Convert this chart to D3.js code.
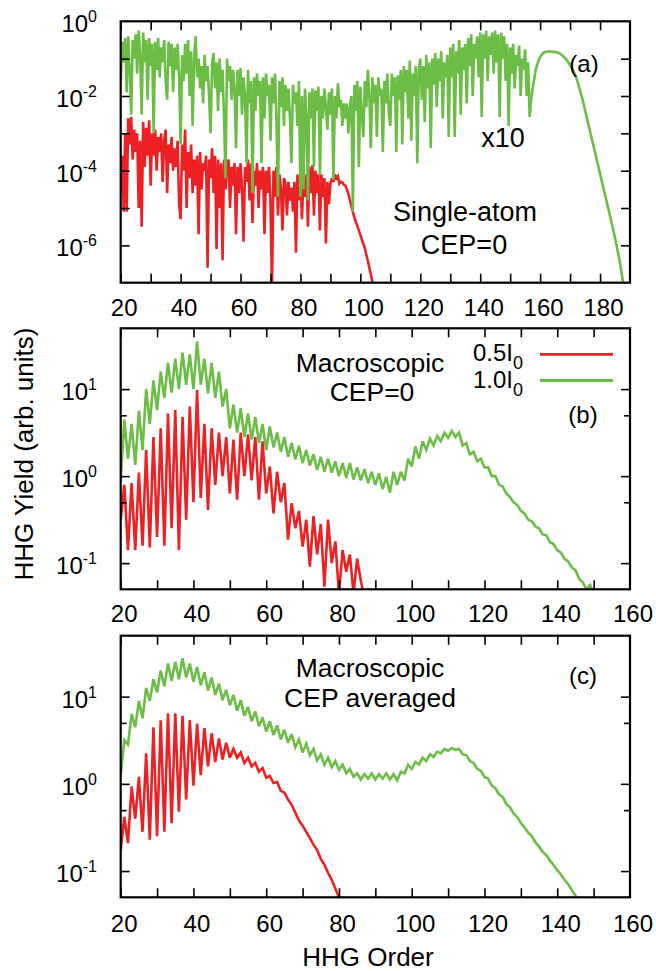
<!DOCTYPE html>
<html><head><meta charset="utf-8">
<script src="https://cdn.jsdelivr.net/npm/d3@7"></script>
<style>
body{margin:0;background:#fff}
text{font-family:"Liberation Sans",Arial,Helvetica,sans-serif;fill:#000}
</style>
</head><body>
<svg id="chart" width="656" height="971"></svg>
<script>
// ---------------- DATA (log10 of HHG yield) ----------------
// Panel (a): single-atom, CEP=0, sampled every 0.5 harmonic order from order 20
const aStart = 20, aStep = 0.5;
const a_I05_log10 = [
 -4.6,-3.6,-5.1,-3.0,-5.1,-2.6,-3.3,-2.56,-3.7,-2.9,
 -3.5,-3.0,-5.0,-3.2,-5.5,-2.7,-3.9,-2.85,-3.6,-2.65,
 -4.4,-3.0,-3.6,-2.9,-4.0,-3.1,-3.5,-3.0,-4.3,-3.2,
 -2.9,-4.6,-3.3,-3.8,-3.1,-4.0,-3.4,-3.9,-3.2,-4.9,
 -5.3,-3.3,-4.0,-2.9,-5.0,-3.5,-4.2,-3.3,-4.6,-3.7,
 -4.4,-3.6,-5.7,-3.5,-4.5,-3.8,-4.0,-3.6,-6.6,-3.7,
 -4.2,-3.4,-4.6,-3.6,-6.1,-3.7,-5.0,-3.8,-6.4,-3.7,
 -4.5,-3.9,-3.7,-5.0,-3.9,-4.4,-3.8,-5.7,-3.9,-4.6,
 -3.8,-4.5,-5.9,-3.9,-4.3,-3.7,-4.8,-3.8,-5.4,-4.0,
 -4.4,-3.8,-5.0,-4.0,-4.5,-3.9,-5.7,-4.0,-4.6,-3.9,
 -4.8,-7.2,-4.0,-4.7,-3.9,-5.2,-4.1,-4.5,-5.6,-4.2,
 -4.35,-5.2,-4.3,-4.8,-4.45,-5.1,-4.3,-6.2,-4.1,-4.8,
 -4.1,-5.3,-4.2,-4.7,-4.1,-5.5,-3.9,-4.6,-3.85,-5.2,
 -4.0,-4.6,-4.1,-5.6,-4.1,-4.7,-4.2,-5.95,-4.3,-4.9,
 -4.35,-4.2,-4.3,-4.1,-4.2,-4.15,-4.35,-4.3,-4.32,-4.38,
 -4.4,-4.5,-4.62,-4.78,-4.95,-5.1,-5.25,-5.38,-5.48,-5.6,
 -5.72,-5.84,-5.96,-6.08,-6.25,-6.42,-6.6,-6.78,-6.96,-7.15
];
const a_I10_log10 = [
 -1.6,-0.55,-1.1,-0.45,-1.9,-0.4,-1.3,-2.5,-0.5,-1.0,
 -0.35,-1.4,-0.25,-0.9,-2.5,-0.3,-1.1,-0.5,-2.1,-0.45,
 -1.2,-0.6,-3.0,-0.55,-1.3,-0.45,-1.5,-0.7,-1.1,-0.5,
 -1.6,-2.1,-0.55,-1.2,-0.6,-1.9,-0.7,-1.3,-0.6,-1.5,
 -3.3,-0.9,-1.6,-0.6,-1.4,-0.5,-2.0,-0.8,-2.8,-1.0,
 -0.4,-1.5,-1.0,-1.8,-1.2,-2.2,-0.9,-1.6,-1.2,-2.0,
 -3.0,-1.1,-0.85,-1.8,-1.1,-2.4,-1.0,-1.9,-1.3,-2.6,
 -4.2,-1.0,-1.6,-1.2,-2.1,-1.3,-1.8,-3.4,-1.3,-2.0,
 -1.25,-2.5,-1.5,-2.0,-3.8,-1.3,-2.2,-1.6,-4.6,-1.5,
 -2.4,-1.4,-2.0,-1.6,-3.8,-1.5,-2.6,-1.4,-2.0,-1.7,
 -3.2,-1.5,-2.2,-1.4,-2.7,-4.7,-1.6,-2.3,-1.5,-2.8,
 -1.7,-2.4,-1.8,-2.6,-3.8,-1.7,-2.2,-1.9,-2.8,-1.6,
 -4.7,-2.0,-4.5,-1.8,-2.5,-4.8,-1.9,-2.6,-1.8,-3.9,
 -1.85,-2.4,-1.75,-4.1,-2.0,-2.6,-1.8,-2.3,-2.9,-1.9,
 -2.5,-1.8,-4.25,-2.0,-2.6,-1.66,-2.3,-2.1,-2.8,-2.2,
 -2.6,-2.2,-3.0,-2.3,-2.0,-5.1,-1.7,-2.4,-1.6,-3.9,
 -1.75,-2.5,-3.1,-1.6,-2.3,-1.3,-2.0,-3.4,-1.5,-2.2,
 -1.7,-3.1,-1.5,-2.0,-1.8,-3.5,-1.6,-2.2,-1.4,-2.5,
 -2.8,-1.4,-2.0,-1.5,-3.5,-1.45,-2.1,-1.3,-3.3,-1.2,
 -1.9,-1.3,-2.6,-1.05,-3.2,-1.4,-2.0,-1.2,-3.8,-1.3,
 -1.0,-2.1,-1.2,-2.7,-0.9,-1.8,-1.1,-3.4,-1.0,-1.7,
 -0.85,-2.3,-1.0,-1.6,-0.8,-2.6,-1.1,-1.5,-0.9,-3.1,
 -0.7,-1.5,-0.6,-3.1,-0.8,-1.4,-0.5,-2.5,-0.7,-1.3,
 -0.6,-2.2,-0.45,-1.2,-0.35,-2.0,-0.6,-1.0,-0.4,-1.5,
 -0.3,-2.56,-0.35,-1.0,-0.25,-1.6,-0.4,-0.9,-0.3,-1.4,
 -0.25,-1.1,-0.35,-2.56,-0.3,-1.0,-0.4,-1.6,-0.6,-2.8,
 -0.7,-1.4,-0.6,-1.8,-0.9,-1.2,-0.65,-2.0,-1.0,-1.3,
 -0.75,-2.0,-1.1,-2.56,-2.1,-1.8,-1.57,-1.3,-1.17,-1.05,
 -0.96,-0.9,-0.85,-0.83,-0.82,-0.81,-0.81,-0.81,-0.82,-0.82,
 -0.82,-0.83,-0.84,-0.86,-0.89,-0.92,-0.96,-1.0,-1.05,-1.11,
 -1.17,-1.24,-1.31,-1.4,-1.5,-1.62,-1.76,-1.9,-2.05,-2.2,
 -2.38,-2.55,-2.72,-2.89,-3.06,-3.23,-3.4,-3.57,-3.74,-3.91,
 -4.08,-4.25,-4.42,-4.59,-4.76,-4.93,-5.1,-5.27,-5.44,-5.62,
 -5.8,-6.0,-6.2,-6.4,-6.65,-6.9,-7.15
];

// Panels (b) and (c): macroscopic, sampled every harmonic order from order 20
const bcStart = 20, bcStep = 1;
const b_I05_log10 = [
 -0.5,-0.1,-0.85,-0.08,-0.85,0.04,-0.8,0.3,-0.82,0.45,
 -0.7,0.55,-0.8,0.72,-0.6,0.76,-0.85,0.68,-0.5,0.8,
 -0.3,0.99,-0.25,0.6,-0.39,0.55,-0.1,0.5,0.0,0.45,
 -0.2,0.42,-0.27,0.5,0.0,0.48,-0.05,0.45,-0.27,0.4,
 -0.2,0.11,-0.43,0.05,-0.3,-0.08,-0.73,-0.31,-0.6,-0.4,
 -0.81,-0.5,-1.04,-0.46,-0.9,-0.55,-1.27,-0.5,-1.0,-0.75,
 -1.35,-0.85,-1.1,-0.9,-1.35,-0.95,-1.2,-1.4
];
const b_I10_log10 = [
 -0.05,0.65,0.2,0.6,0.13,0.75,0.3,1.0,0.6,1.1,
 0.76,1.2,0.9,1.3,0.96,1.35,1.0,1.42,1.05,1.4,
 1.0,1.55,1.05,1.35,0.95,1.3,0.9,1.2,0.8,1.0,
 0.55,0.82,0.5,0.78,0.45,0.72,0.42,0.68,0.38,0.6,
 0.3,0.57,0.33,0.5,0.28,0.45,0.22,0.38,0.19,0.35,
 0.15,0.3,0.12,0.25,0.07,0.22,0.05,0.2,0.04,0.17,
 0.0,0.15,-0.02,0.15,-0.04,0.1,-0.05,0.08,-0.08,0.05,
 -0.1,0.03,-0.15,-0.01,-0.19,0.05,-0.1,0.05,-0.05,0.2,
 0.11,0.34,0.2,0.4,0.3,0.43,0.35,0.46,0.4,0.5,
 0.44,0.52,0.45,0.5,0.35,0.38,0.25,0.28,0.17,0.2,
 0.1,0.1,0.0,0.0,-0.1,-0.12,-0.2,-0.24,-0.3,-0.33,
 -0.4,-0.43,-0.5,-0.52,-0.58,-0.6,-0.67,-0.68,-0.76,-0.78,
 -0.85,-0.88,-0.95,-0.98,-1.05,-1.08,-1.18,-1.22,-1.3,-1.25,
 -1.35
];
const c_I05_log10 = [
 -0.76,-0.38,-0.68,-0.03,-0.4,0.08,-0.55,0.35,-0.64,0.65,
 -0.6,0.73,-0.55,0.81,-0.45,0.81,-0.32,0.78,-0.18,0.73,
 -0.02,0.69,0.1,0.64,0.2,0.58,0.25,0.52,0.28,0.47,
 0.3,0.4,0.3,0.36,0.24,0.3,0.2,0.24,0.14,0.18,
 0.07,0.09,0.01,0.02,-0.08,-0.1,-0.18,-0.24,-0.33,-0.42,
 -0.48,-0.55,-0.62,-0.7,-0.76,-0.86,-0.93,-1.02,-1.1,-1.2,
 -1.3,-1.4
];
const c_I10_log10 = [
 0.1,0.5,0.45,0.8,0.65,0.95,0.75,1.1,0.95,1.2,
 1.05,1.3,1.12,1.38,1.18,1.4,1.2,1.44,1.22,1.38,
 1.17,1.34,1.13,1.28,1.07,1.22,1.02,1.15,0.96,1.08,
 0.9,1.02,0.84,0.96,0.78,0.88,0.72,0.83,0.66,0.76,
 0.6,0.72,0.56,0.67,0.51,0.62,0.47,0.57,0.42,0.51,
 0.36,0.46,0.33,0.4,0.27,0.34,0.22,0.3,0.19,0.26,
 0.16,0.22,0.12,0.17,0.08,0.12,0.05,0.11,0.06,0.12,
 0.05,0.11,0.06,0.12,0.05,0.11,0.04,0.14,0.12,0.22,
 0.17,0.25,0.22,0.3,0.26,0.34,0.31,0.37,0.35,0.4,
 0.38,0.41,0.39,0.4,0.34,0.33,0.26,0.24,0.17,0.15,
 0.08,0.06,-0.02,-0.05,-0.12,-0.15,-0.23,-0.27,-0.34,-0.38,
 -0.45,-0.5,-0.56,-0.6,-0.67,-0.72,-0.78,-0.82,-0.88,-0.93,
 -0.99,-1.04,-1.1,-1.15,-1.22,-1.28,-1.35
];

// Tick values / labels
const xTicksA = [20,30,40,50,60,70,80,90,100,110,120,130,140,150,160,170,180];
const xLabelsA = [20,40,60,80,100,120,140,160,180];
const xTicksBC = [20,30,40,50,60,70,80,90,100,110,120,130,140,150];
const xLabelsBC = [20,40,60,80,100,120,140,160];
const yMajorA = [1e-6,1e-5,1e-4,1e-3,1e-2,1e-1];
const yLabelExpA = [0,-2,-4,-6];
const yMajorBC = [10,1,0.1];
const yMinorBC = [5,0.5];
const yLabelExpBC = [1,0,-1];
const legendNames = ["0.5I", "1.0I"];
const colors = {I05:"#ed2024", I10:"#6bbd45"};

// ---------------- DRAWING ----------------
const svg = d3.select("#chart");
const L = 120.7, R = 630;

function series(vals, start, step){ return vals.map((v,i)=>[start+i*step, Math.pow(10,v)]); }

function panel(cfg){
  const x = d3.scaleLinear().domain(cfg.xd).range([L,R]);
  const y = d3.scaleLog().domain(cfg.yd).range([cfg.bot,cfg.top]);
  const g = svg.append("g");
  const cid = "clip-"+cfg.id;
  svg.append("clipPath").attr("id",cid).append("rect")
    .attr("x",L).attr("y",cfg.top).attr("width",R-L).attr("height",cfg.bot-cfg.top);
  const line = d3.line().x(d=>x(d[0])).y(d=>y(d[1]));
  const lg = g.append("g").attr("clip-path","url(#"+cid+")");
  cfg.series.forEach(s=>{
    lg.append("path").datum(s.data).attr("d",line)
      .attr("fill","none").attr("stroke",s.color).attr("stroke-width",2.6)
      .attr("stroke-linejoin","miter").attr("stroke-miterlimit",3);
  });
  const tickStyle = sel=>{ sel.select(".domain").remove(); sel.selectAll(".tick line").attr("stroke","#000").attr("stroke-width",1.6); };
  const bx = g.append("g").attr("transform",`translate(0,${cfg.bot})`)
    .call(d3.axisBottom(x).tickValues(cfg.xt).tickSizeInner(-9).tickSizeOuter(0).tickPadding(cfg.xpad)
      .tickFormat(d=>cfg.xl.includes(d)?String(d):""));
  tickStyle(bx);
  bx.selectAll(".tick text").attr("font-size",24).attr("dx",3).attr("font-family",null);
  cfg.xl.filter(v=>!cfg.xt.includes(v)).forEach(v=>{
    g.append("text").attr("x",x(v)+3).attr("y",cfg.bot+cfg.xpad+17).attr("text-anchor","middle")
      .attr("font-size",24).text(v);
  });
  const tx = g.append("g").attr("transform",`translate(0,${cfg.top})`)
    .call(d3.axisTop(x).tickValues(cfg.xt).tickSizeInner(-9).tickSizeOuter(0).tickFormat(""));
  tickStyle(tx);
  [[d3.axisLeft,L],[d3.axisRight,R]].forEach(([ax,pos])=>{
    const s = g.append("g").attr("transform",`translate(${pos},0)`)
      .call(ax(y).tickValues(cfg.ymaj).tickSizeInner(-9).tickSizeOuter(0).tickFormat(""));
    tickStyle(s);
    if(cfg.ymin){
      const m = g.append("g").attr("transform",`translate(${pos},0)`)
        .call(ax(y).tickValues(cfg.ymin).tickSizeInner(-6).tickSizeOuter(0).tickFormat(""));
      tickStyle(m);
    }
  });
  cfg.ylab.forEach(e=>{
    const t = g.append("text").attr("x",97).attr("y",y(Math.pow(10,e))+11)
      .attr("text-anchor","end").attr("font-size",24);
    t.append("tspan").text("10");
    t.append("tspan").attr("font-size",16).attr("dy",-10).text(String(e));
  });
  g.append("rect").attr("x",L).attr("y",cfg.top).attr("width",R-L).attr("height",cfg.bot-cfg.top)
    .attr("fill","none").attr("stroke","#000").attr("stroke-width",2.2);
  return {x,y,g};
}

panel({id:"a", xd:[20,190], yd:[1e-7,1], top:21.3, bot:282.7, xt:xTicksA, xl:xLabelsA, xpad:16,
  ymaj:yMajorA, ymin:null, ylab:yLabelExpA,
  series:[{data:series(a_I05_log10,aStart,aStep),color:colors.I05},
          {data:series(a_I10_log10,aStart,aStep),color:colors.I10}]});
panel({id:"b", xd:[20,160], yd:[0.05,50], top:328.3, bot:589.3, xt:xTicksBC, xl:xLabelsBC, xpad:16,
  ymaj:yMajorBC, ymin:yMinorBC, ylab:yLabelExpBC,
  series:[{data:series(b_I05_log10,bcStart,bcStep),color:colors.I05},
          {data:series(b_I10_log10,bcStart,bcStep),color:colors.I10}]});
panel({id:"c", xd:[20,160], yd:[0.05,50], top:635.7, bot:897.3, xt:xTicksBC, xl:xLabelsBC, xpad:18,
  ymaj:yMajorBC, ymin:yMinorBC, ylab:yLabelExpBC,
  series:[{data:series(c_I05_log10,bcStart,bcStep),color:colors.I05},
          {data:series(c_I10_log10,bcStart,bcStep),color:colors.I10}]});

function txt(x,y,s,size,anchor){ return svg.append("text").attr("x",x).attr("y",y).attr("font-size",size)
  .attr("text-anchor",anchor||"middle").text(s); }
txt(584,72,"(a)",24);
txt(503,147,"x10",27);
txt(465,221,"Single-atom",27);
txt(464,254,"CEP=0",27);

txt(370,372,"Macroscopic",26.5);
txt(372,401,"CEP=0",26.5);
txt(583,423,"(b)",24);
[[361,354.3,colors.I05,legendNames[0]],[388,380.5,colors.I10,legendNames[1]]].forEach(([ty,ly,col,name])=>{
  const t = svg.append("text").attr("x",523).attr("y",ty).attr("font-size",24).attr("text-anchor","end");
  t.append("tspan").text(name);
  t.append("tspan").attr("font-size",18).attr("dy",8).text("0");
  svg.append("line").attr("x1",540).attr("x2",613).attr("y1",ly).attr("y2",ly)
    .attr("stroke",col).attr("stroke-width",2.8);
});

txt(370,677,"Macroscopic",26.5);
txt(370,707,"CEP averaged",26.5);
txt(583,684,"(c)",24);

txt(368,966,"HHG Order",26);
svg.append("text").attr("transform","translate(33,454) rotate(-90)").attr("text-anchor","middle")
  .attr("font-size",26).text("HHG Yield (arb. units)");
</script>
</body></html>
